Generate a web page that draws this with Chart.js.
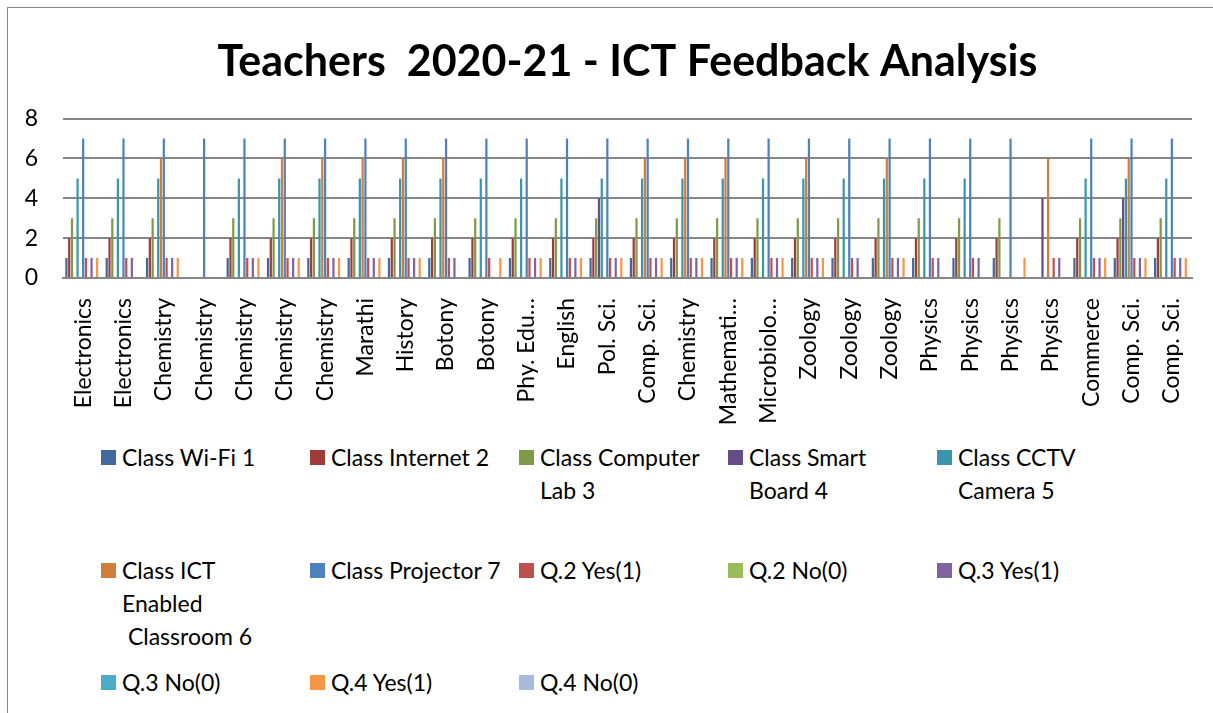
<!DOCTYPE html>
<html>
<head>
<meta charset="utf-8">
<script src="https://cdn.jsdelivr.net/npm/chart.js@4.4.0/dist/chart.umd.min.js"></script>
<style>
  body { margin: 0; background: #fff; width: 1213px; height: 713px; overflow: hidden; position: relative; font-family: Lato, "Open Sans", sans-serif; }
  #frame { position: absolute; left: 7px; top: 7px; width: 1220px; height: 720px; border: 1px solid #868686; box-sizing: border-box; }
  #chart { position: absolute; left: 0; top: 0; }
  .item { position: absolute; }
  .box { position: absolute; width: 15px; height: 15px; }
  .txt { position: absolute; left: 21px; white-space: pre; font-size: 23px; line-height: 33px; color: #000; }
</style>
</head>
<body>
<div id="frame"></div>
<canvas id="chart" width="1213" height="430"></canvas>
<div id="legend"></div>
<script>
// categories (labels as shown on the axis)
const departments = ['Electronics', 'Electronics', 'Chemistry', 'Chemistry', 'Chemistry', 'Chemistry', 'Chemistry',
    'Marathi', 'History', 'Botony', 'Botony', 'Phy. Edu…', 'English', 'Pol. Sci.', 'Comp. Sci.', 'Chemistry',
    'Mathemati…', 'Microbiolo…', 'Zoology', 'Zoology', 'Zoology', 'Physics', 'Physics', 'Physics', 'Physics',
    'Commerce', 'Comp. Sci.', 'Comp. Sci.'];

// series values
const wifi       = [1,1,1,0,1,1,1,1,1,1,1,1,1,1,1,1,1,1,1,1,1,1,1,1,0,1,1,1];
const internet   = [2,2,2,0,2,2,2,2,2,2,2,2,2,2,2,2,2,2,2,2,2,2,2,2,0,2,2,2];
const compLab    = [3,3,3,0,3,3,3,3,3,3,3,3,3,3,3,3,3,3,3,3,3,3,3,3,0,3,3,3];
const smartBoard = [0,0,0,0,0,0,0,0,0,0,0,0,0,4,0,0,0,0,0,0,0,0,0,0,4,0,4,0];
const cctv       = [5,5,5,0,5,5,5,5,5,5,5,5,5,5,5,5,5,5,5,5,5,5,5,0,0,5,5,5];
const ictRoom    = [0,0,6,0,0,6,6,6,6,6,0,0,0,0,6,6,6,0,6,0,6,0,0,0,6,0,6,0];
const projector  = [7,7,7,7,7,7,7,7,7,7,7,7,7,7,7,7,7,7,7,7,7,7,7,7,0,7,7,7];
const q2Yes      = [1,1,1,0,1,1,1,1,1,1,1,1,1,1,1,1,1,1,1,1,1,1,1,0,1,1,1,1];
const q2No       = [0,0,0,0,0,0,0,0,0,0,0,0,0,0,0,0,0,0,0,0,0,0,0,0,0,0,0,0];
const q3Yes      = [1,1,1,0,1,1,1,1,1,1,0,1,1,1,1,1,1,1,1,1,1,1,1,0,1,1,1,1];
const q3No       = [0,0,0,0,0,0,0,0,0,0,0,0,0,0,0,0,0,0,0,0,0,0,0,0,0,0,0,0];
const q4Yes      = [1,0,1,0,1,1,1,1,1,0,1,1,1,1,1,1,1,1,1,0,1,0,0,1,0,1,1,1];
const q4No       = [0,0,0,0,0,0,0,0,0,0,0,0,0,0,0,0,0,0,0,0,0,0,0,0,0,0,0,0];

// y axis ticks
const yTicks = [0, 2, 4, 6, 8];

const seriesNames = ['Class Wi-Fi 1', 'Class Internet 2', 'Class Computer\nLab 3', 'Class Smart\nBoard 4',
    'Class CCTV\nCamera 5', 'Class ICT\nEnabled\n Classroom 6', 'Class Projector 7', 'Q.2 Yes(1)', 'Q.2 No(0)',
    'Q.3 Yes(1)', 'Q.3 No(0)', 'Q.4 Yes(1)', 'Q.4 No(0)'];
const seriesValues = [wifi, internet, compLab, smartBoard, cctv, ictRoom, projector, q2Yes, q2No, q3Yes, q3No, q4Yes, q4No];
const seriesColors = ['#41699C', '#9E3C3A', '#7E9A48', '#664D86', '#3A96AC', '#D27D39', '#4F81BD',
    '#C0504D', '#9BBB59', '#8064A2', '#4BACC6', '#F79646', '#A9BBDB'];

Chart.defaults.font.family = 'Lato, "Open Sans", sans-serif';
Chart.defaults.color = '#000';

const ctx = document.getElementById('chart').getContext('2d');
new Chart(ctx, {
    type: 'bar',
    data: {
        labels: departments,
        datasets: seriesValues.map((vals, i) => ({
            label: seriesNames[i],
            data: vals,
            backgroundColor: seriesColors[i],
            borderWidth: 0,
            categoryPercentage: 0.9,
            barPercentage: 0.8
        }))
    },
    options: {
        responsive: false,
        animation: false,
        layout: { padding: { left: 0, right: 21, top: 0, bottom: 0 } },
        plugins: {
            legend: { display: false },
            tooltip: { enabled: false },
            title: {
                display: true,
                fullSize: false,
                text: 'Teachers  2020-21 - ICT Feedback Analysis',
                font: { size: 43, weight: 'bold' },
                color: '#000',
                padding: { top: 36, bottom: 31 }
            }
        },
        scales: {
            x: {
                grid: { display: false },
                border: { display: true, color: '#868686', width: 2 },
                ticks: { autoSkip: false, minRotation: 90, maxRotation: 90, padding: 12, font: { size: 23 } },
                afterFit: scale => { scale.height = 152; }
            },
            y: {
                min: 0,
                max: 8,
                afterBuildTicks: scale => { scale.ticks = yTicks.map(v => ({ value: v })); },
                grid: { color: '#868686', lineWidth: 2, drawTicks: false },
                border: { display: false },
                ticks: { padding: 25, font: { size: 23 } },
                afterFit: scale => { scale.width = 63; }
            }
        }
    }
});

// legend laid out like the original (5 columns, fixed rows)
const colX = [101, 310, 519, 728, 937];
const rowY = [450, 563, 675];
const legend = document.getElementById('legend');
seriesNames.forEach((name, i) => {
    const item = document.createElement('div');
    item.className = 'item';
    item.style.left = colX[i % 5] + 'px';
    item.style.top = rowY[Math.floor(i / 5)] + 'px';
    item.innerHTML = '<div class="box" style="background:' + seriesColors[i] + '"></div>' +
        '<div class="txt" style="top:-9px"></div>';
    item.querySelector('.txt').textContent = name;
    legend.appendChild(item);
});
</script>
</body>
</html>
